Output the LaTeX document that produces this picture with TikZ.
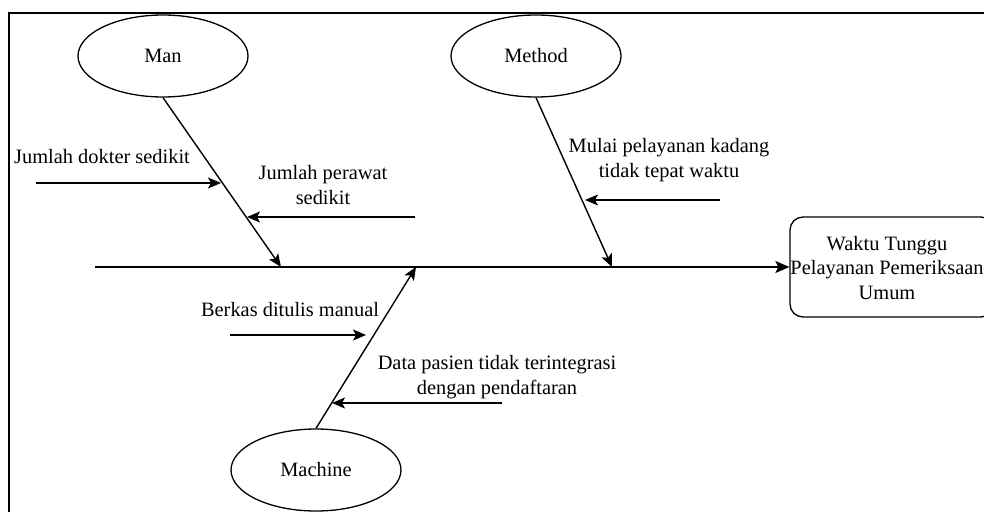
\documentclass[tikz,border=0pt]{standalone}
\usepackage{fontspec}
\setmainfont{Liberation Serif}
\newfontfamily\tnr{Liberation Serif}
\usetikzlibrary{arrows.meta,shapes.geometric}
\begin{document}
\begin{tikzpicture}[x=1pt,y=-1pt,
  every node/.style={font=\tnr\fontsize{20.4}{24.5}\selectfont},
  cause/.style={draw,ellipse,line width=1.3pt,minimum width=170pt,minimum height=82pt,inner sep=0pt},
  effect/.style={draw,rounded corners=13pt,line width=1.3pt,minimum width=204pt,minimum height=100pt,inner sep=0pt},
  lbl/.style={align=center,inner sep=0pt},
  bone/.style={line width=1.4pt,-{Stealth[length=13pt,width=11pt,inset=3pt]}},
  spine/.style={line width=1.8pt,-{Stealth[length=14pt,width=12pt,inset=3pt]}}]
\useasboundingbox (0,0) rectangle (984,511);
\clip (0,0) rectangle (984,511);
\fill[white] (0,0) rectangle (984,511);
\draw[line width=2pt] (9,13) rectangle (1000,530);

% heads
\node[cause] (man) at (163,56) {Man};
\node[cause] (method) at (536,56) {Method};
\node[cause] (machine) at (316,470) {Machine};
\node[effect] (effect) at (892,267) {};
\node[lbl] (etext) at (887,268) {Waktu Tunggu\\Pelayanan Pemeriksaan\\Umum};

% spine
\coordinate (s0) at (95,267);
\coordinate (jman) at (281,267);
\coordinate (jmethod) at (612,267);
\coordinate (jmachine) at (416,267);
\draw[spine] (s0) -- (effect.west);

% bones
\draw[bone] (man.south) -- (jman);
\draw[bone] (method.south) -- (jmethod);
\draw[bone] (machine.north) -- (jmachine);

% sub causes
\coordinate (a1s) at (36,183);  \coordinate (a1e) at (221,183);
\coordinate (a2s) at (415,217); \coordinate (a2e) at (247,217);
\coordinate (a3s) at (720,200); \coordinate (a3e) at (585,200);
\coordinate (a4s) at (230,335); \coordinate (a4e) at (366,335);
\coordinate (a5s) at (502,403); \coordinate (a5e) at (332,403);
\draw[bone] (a1s) -- (a1e);
\draw[bone] (a2s) -- (a2e);
\draw[bone] (a3s) -- (a3e);
\draw[bone] (a4s) -- (a4e);
\draw[bone] (a5s) -- (a5e);

\node[lbl,anchor=west] (t1) at (14,157) {Jumlah dokter sedikit};
\node[lbl] (t2) at (323,185) {Jumlah perawat\\sedikit};
\node[lbl] (t3) at (669,160) {Mulai pelayanan kadang\\tidak tepat waktu};
\node[lbl] (t4) at (290,310) {Berkas ditulis manual};
\node[lbl] (t5) at (497,377) {Data pasien tidak terintegrasi\\dengan pendaftaran};
\end{tikzpicture}
\end{document}
